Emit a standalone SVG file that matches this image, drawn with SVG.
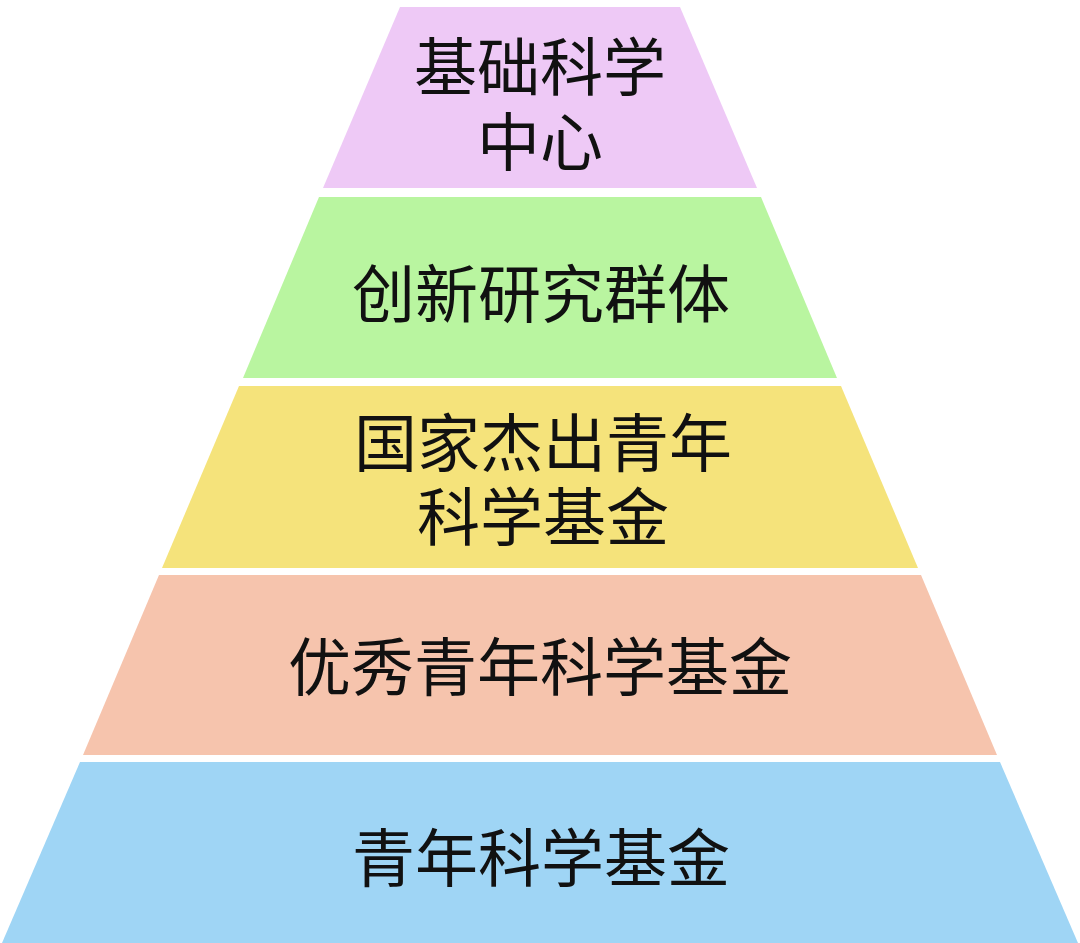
<svg xmlns="http://www.w3.org/2000/svg" width="1080" height="943" viewBox="0 0 1080 943">
<style>
.lbl{font-family:"Noto Sans CJK SC","Noto Sans CJK JP",sans-serif;font-size:63px;fill:#111;text-anchor:middle;dominant-baseline:central}
</style>
<rect x="0" y="0" width="1080" height="943" fill="#ffffff"/>
<g id="level1">
<polygon points="400,7 680,7 757,188 323,188" fill="#eec9f6"/>
<text class="lbl"><tspan x="540" y="62">基础科学</tspan><tspan x="540" y="137">中心</tspan></text>
</g>
<g id="level2">
<polygon points="319,197 761,197 837,378 243,378" fill="#b9f5a0"/>
<text class="lbl" x="541" y="289">创新研究群体</text>
</g>
<g id="level3">
<polygon points="239,386 841,386 918,568 162,568" fill="#f5e37b"/>
<text class="lbl"><tspan x="543" y="438">国家杰出青年</tspan><tspan x="543" y="512">科学基金</tspan></text>
</g>
<g id="level4">
<polygon points="159,575 921,575 997,755 83,755" fill="#f6c4ad"/>
<text class="lbl" x="540" y="662">优秀青年科学基金</text>
</g>
<g id="level5">
<polygon points="80,762 1000,762 1078,943 2,943" fill="#9fd5f5"/>
<text class="lbl" x="541" y="853">青年科学基金</text>
</g>
<g id="connectors"></g>
</svg>
